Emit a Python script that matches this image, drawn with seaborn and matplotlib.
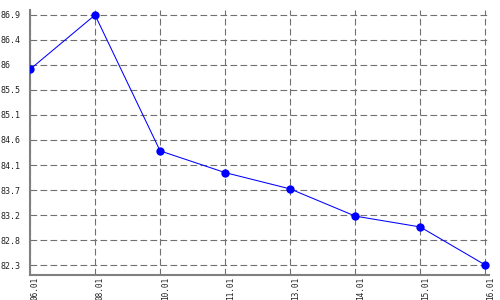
import matplotlib
matplotlib.use("Agg")
import matplotlib.pyplot as plt
import matplotlib.transforms as mtransforms
import numpy as np
import pandas as pd
import seaborn as sns

dates = ["06.01", "08.01", "10.01", "11.01", "13.01", "14.01", "15.01", "16.01"]
values = [85.9, 86.9, 84.4, 84.0, 83.7, 83.2, 83.0, 82.3]

sns.set_style("white")
plt.rcParams["font.family"] = ["DejaVu Sans Mono", "DejaVu Sans"]

df = pd.DataFrame({"idx": np.arange(len(dates)), "value": values})

fig = plt.figure(figsize=(5, 3), dpi=100)
ax = fig.add_axes([0.06, 0.0833, 0.918, 0.8834])

sns.lineplot(data=df, x="idx", y="value", ax=ax, color="#0000ff",
             linewidth=0.75, marker="o", markersize=6, markeredgewidth=0,
             zorder=3)

vmin, vmax = min(values), max(values)
yticks = np.linspace(vmin, vmax, 11)
ax.set_yticks(yticks)
ax.set_yticklabels([f"{t:.1f}".rstrip("0").rstrip(".") for t in yticks])
ax.set_xticks(df["idx"])
ax.set_xticklabels(dates, rotation=90)

step = (vmax - vmin) / 10
ax.set_ylim(vmin - step * 0.4, vmax + step * 0.2)
ax.set_xlim(0, len(dates) - 1 + 0.057)

ax.grid(True, color="#707070", linewidth=0.8, linestyle=(0, (6, 3)))
ax.set_axisbelow(True)
for s in ["top", "right"]:
    ax.spines[s].set_visible(False)
for s in ["left", "bottom"]:
    ax.spines[s].set_color("#808080")
    ax.spines[s].set_linewidth(1.5)

ax.tick_params(axis="both", length=0, labelsize=6, colors="#222222")
ax.tick_params(axis="y", pad=21)
for lab in ax.get_yticklabels():
    lab.set_horizontalalignment("left")
ax.tick_params(axis="x", pad=1.5, labelsize=5.6)
offset = mtransforms.ScaledTranslation(5 / 100, 0, fig.dpi_scale_trans)
for lab in ax.get_xticklabels():
    lab.set_transform(lab.get_transform() + offset)
ax.set_xlabel("")
ax.set_ylabel("")

fig.savefig("out.png", dpi=100)
